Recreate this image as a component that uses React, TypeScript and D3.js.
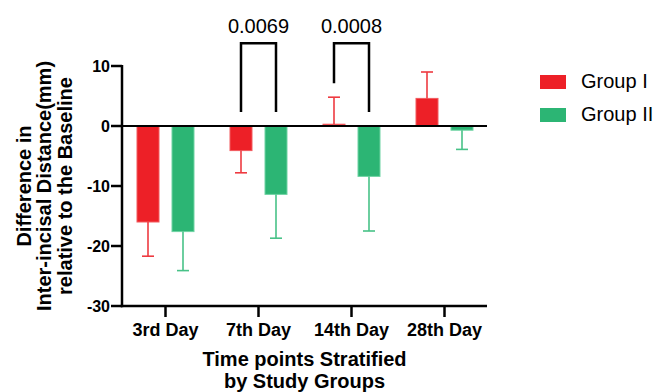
import React from "react";
import * as d3 from "d3";

// Time points and groups
const categories = ["3rd Day", "7th Day", "14th Day", "28th Day"];
const groups = ["Group I", "Group II"];

// Mean difference (mm) and one-sided SD per time point
const groupIMeans = [-16.0, -4.1, 0.3, 4.6];
const groupIErrors = [5.7, 3.7, 4.5, 4.4];
const groupIIMeans = [-17.6, -11.4, -8.4, -0.7];
const groupIIErrors = [6.5, 7.3, 9.1, 3.2];

// Pairwise comparisons (p-values) between groups
const comparisonDays = ["7th Day", "14th Day"];
const comparisonPValues = ["0.0069", "0.0008"];
const bracketLevel = 13.8;

const yTicks = [10, 0, -10, -20, -30];

const colors: Record<string, string> = { "Group I": "#ED2027", "Group II": "#2CB574" };
const errColors: Record<string, string> = { "Group I": "#EE3A40", "Group II": "#48C288" };
const edgeColors: Record<string, string> = { "Group I": "#F25A5F", "Group II": "#6FD3A3" };

const FONT = "'Liberation Sans', Arial, Helvetica, sans-serif";

export default function App() {
  const width = 656;
  const height = 392;
  const axisX = 122;
  const axisEnd = 487;

  const y = d3.scaleLinear().domain([-30, 10]).range([306, 66]);
  const x = d3.scaleBand().domain(categories).range([119, 491]).paddingInner(0).paddingOuter(0);
  const xg = d3.scaleBand().domain(groups).range([-29, 29]).paddingInner(12 / 35).paddingOuter(0);

  const series = [
    { group: "Group I", means: groupIMeans, errs: groupIErrors },
    { group: "Group II", means: groupIIMeans, errs: groupIIErrors },
  ];

  const center = (c: string) => (x(c) as number) + x.bandwidth() / 2;
  const barCenter = (c: string, g: string) => center(c) + (xg(g) as number) + xg.bandwidth() / 2;

  // top of the mark (bar or its upward error bar) for bracket legs
  const markTop = (ci: number, si: number) => {
    const s = series[si];
    const v = s.means[ci];
    const top = v > 0 ? v + s.errs[ci] : 0;
    return y(top);
  };

  const capHalf = 6;

  return (
    <svg
      width={width}
      height={height}
      style={{ position: "absolute", left: 0, top: 0, background: "#fff" }}
      fontFamily={FONT}
    >
      {/* Bars */}
      {series.map((s) =>
        categories.map((c, i) => {
          const v = s.means[i];
          const bx = barCenter(c, s.group) - xg.bandwidth() / 2;
          const y0 = y(Math.max(0, v));
          const h = Math.abs(y(v) - y(0));
          return (
            <rect
              key={s.group + c}
              x={bx + 0.5}
              y={y0}
              width={xg.bandwidth() - 1}
              height={h}
              fill={colors[s.group]}
              stroke={edgeColors[s.group]}
              strokeWidth={1}
            />
          );
        })
      )}

      {/* Error bars (pointing away from zero) */}
      {series.map((s) =>
        categories.map((c, i) => {
          const v = s.means[i];
          const e = s.errs[i];
          const cx = barCenter(c, s.group);
          const end = v >= 0 ? v + e : v - e;
          return (
            <g key={"e" + s.group + c} stroke={errColors[s.group]} strokeWidth={1.6}>
              <line x1={cx} x2={cx} y1={y(v)} y2={y(end)} />
              <line x1={cx - capHalf} x2={cx + capHalf} y1={y(end)} y2={y(end)} />
            </g>
          );
        })
      )}

      {/* Zero line */}
      <line x1={axisX} x2={axisEnd} y1={y(0)} y2={y(0)} stroke="#000" strokeWidth={2.2} />

      {/* Y axis */}
      <line x1={axisX} x2={axisX} y1={y(10) - 1} y2={y(-30) + 1.2} stroke="#000" strokeWidth={2.5} />
      {yTicks.map((t) => (
        <g key={t}>
          <line x1={axisX - 11} x2={axisX} y1={y(t)} y2={y(t)} stroke="#000" strokeWidth={2.5} />
          <text
            x={axisX - 12}
            y={y(t)}
            dy="0.36em"
            textAnchor="end"
            fontSize={16}
            fontWeight="bold"
          >
            {t}
          </text>
        </g>
      ))}

      {/* X axis */}
      <line x1={axisX - 1.2} x2={axisEnd} y1={y(-30)} y2={y(-30)} stroke="#000" strokeWidth={2.5} />
      {categories.map((c) => (
        <g key={c}>
          <line x1={center(c)} x2={center(c)} y1={y(-30)} y2={y(-30) + 11} stroke="#000" strokeWidth={2.5} />
          <text x={center(c)} y={336} textAnchor="middle" fontSize={18} fontWeight="bold">
            {c}
          </text>
        </g>
      ))}

      {/* Axis titles */}
      <g fontSize={20} fontWeight="bold" textAnchor="middle">
        <text x={(axisX + axisEnd) / 2} y={366}>Time points Stratified</text>
        <text x={(axisX + axisEnd) / 2} y={388}>by Study Groups</text>
      </g>
      <g fontSize={20} fontWeight="bold" textAnchor="middle" transform={`translate(0, ${(y(10) + y(-30)) / 2}) rotate(-90)`}>
        <text x={0} y={30.5}>Difference in</text>
        <text x={0} y={51}>Inter-incisal Distance(mm)</text>
        <text x={0} y={71.5}>relative to the Baseline</text>
      </g>

      {/* Significance brackets */}
      {comparisonDays.map((c, k) => {
        const ci = categories.indexOf(c);
        const xl = barCenter(c, groups[0]);
        const xr = barCenter(c, groups[1]);
        const yt = y(bracketLevel);
        const yl = markTop(ci, 0) - 14;
        const yr = markTop(ci, 1) - 14;
        return (
          <g key={"b" + c}>
            <path
              d={`M${xl},${yl}V${yt}H${xr}V${yr}`}
              fill="none"
              stroke="#000"
              strokeWidth={2.5}
            />
            <text x={center(c)} y={33} textAnchor="middle" fontSize={20}>
              {comparisonPValues[k]}
            </text>
          </g>
        );
      })}

      {/* Legend */}
      {groups.map((g, i) => (
        <g key={"l" + g} transform={`translate(540, ${75 + i * 33})`}>
          <rect x={0} y={0} width={26} height={14} fill={colors[g]} />
          <text x={41} y={13} fontSize={20}>
            {g}
          </text>
        </g>
      ))}
    </svg>
  );
}
